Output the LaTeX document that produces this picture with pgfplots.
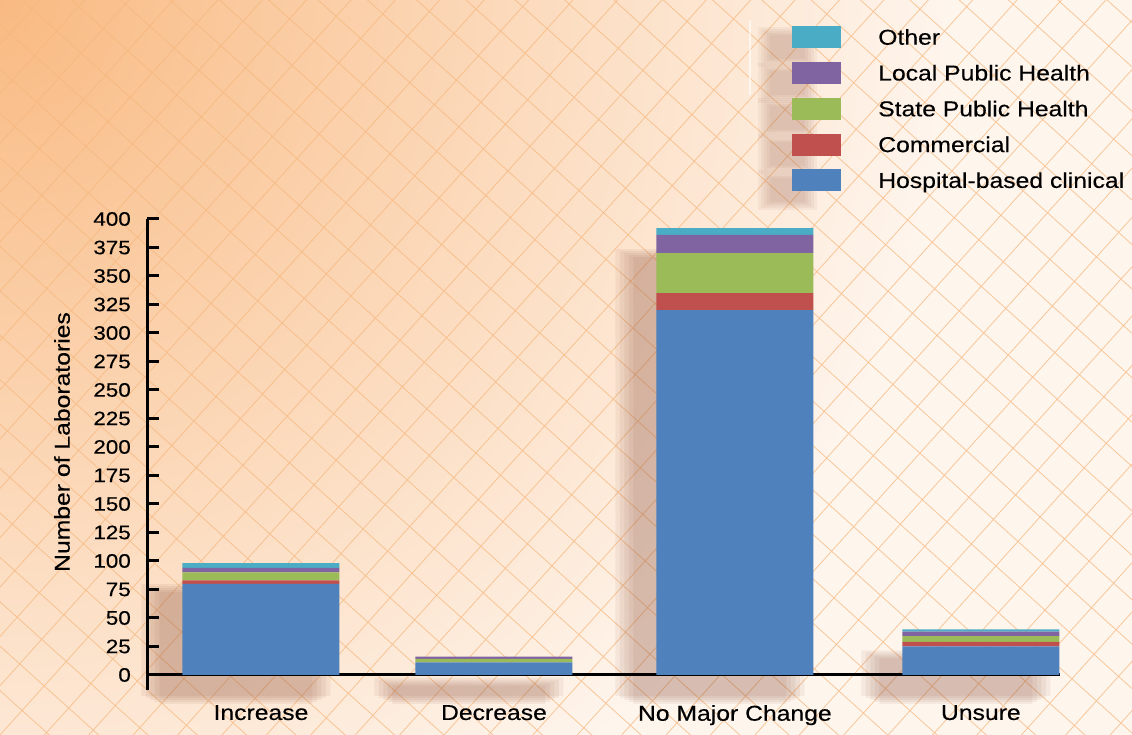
\documentclass[border=0pt]{standalone}
\usepackage{pgfplots}
\usepackage{pgfplotstable}
\pgfplotsset{compat=1.18}
\usepackage{fontspec}
\setmainfont{Liberation Sans}[FakeStretch=1.15, FakeBold=0.3]
\definecolor{cBlue}{HTML}{4F81BD}
\definecolor{cRed}{HTML}{C0504D}
\definecolor{cGreen}{HTML}{9BBB59}
\definecolor{cPurple}{HTML}{8064A2}
\definecolor{cCyan}{HTML}{4BACC6}
\definecolor{bgLight}{RGB}{254,245,237}
\definecolor{bgOrange}{RGB}{249,186,130}
\definecolor{lattice}{RGB}{246,183,125}
\definecolor{shadowc}{RGB}{140,80,60}

\pgfplotstableread{
x hosp comm state local other
0 80 3 7 4 4
0.971 11 0 3 2 0
1.975 320 15 35 16 6
3 25 4 5 4 2
}\labdata

\pgfplotstableread{
x total
0 98
0.971 16
1.975 392
3 40
}\totals

\begin{document}
\fontsize{21.5}{25}\selectfont
\begin{tikzpicture}[x=1pt,y=1pt]
\useasboundingbox (0,0) rectangle (1132,735);
\begin{scope}
\clip (0,0) rectangle (1132,735);
\fill[bgLight] (0,0) rectangle (1132,735);
\shade[inner color=bgOrange, outer color=bgLight] (0,735) circle (950);
\draw[lattice, opacity=0.75, line width=0.8pt, rotate=48, step=33] (-1600,-1600) grid (1600,1600);
% soft shadows beside the legend keys
\foreach \yc in {37,73,108,144,180}{
  \foreach \k in {0,...,4}{
    \fill[shadowc, opacity=0.06] (770-3*\k, 735-\yc-22-2*\k) rectangle (805+3*\k, 735-\yc+2+2*\k);
  }
}
\fill[white, opacity=0.6] (749,640) rectangle (751,715);
\end{scope}

% soft shadows behind the bars
\begin{axis}[
  at={(122pt,20pt)}, anchor=south west,
  scale only axis, width=913pt, height=471pt,
  xmin=-0.475, xmax=3.33, ymin=-13.2, ymax=400,
  hide axis, clip=false, ybar,
]
\addplot[fill=shadowc, draw=none, opacity=0.08, bar width=189pt, bar shift=0pt, yshift=4pt] table[x=x,y=total]{\totals};
\addplot[fill=shadowc, draw=none, opacity=0.08, bar width=180pt, bar shift=0pt, yshift=2pt] table[x=x,y=total]{\totals};
\addplot[fill=shadowc, draw=none, opacity=0.08, bar width=171pt, bar shift=0pt] table[x=x,y=total]{\totals};
\addplot[fill=shadowc, draw=none, opacity=0.08, bar width=162pt, bar shift=0pt, yshift=-2pt] table[x=x,y=total]{\totals};
\addplot[fill=shadowc, draw=none, opacity=0.08, bar width=153pt, bar shift=0pt, yshift=-4pt] table[x=x,y=total]{\totals};
\end{axis}

\begin{axis}[
  at={(147pt,45pt)}, anchor=south west,
  scale only axis, width=913pt, height=471pt,
  xmin=-0.475, xmax=3.33, ymin=-13.2, ymax=400,
  ybar stacked, bar width=157pt,
  axis x line=middle, axis y line=left,
  axis line style={-, line width=3pt, black},
  hide obscured x ticks=false, hide obscured y ticks=false,
  xtick={0,0.971,1.975,3},
  xticklabels={Increase, Decrease, No Major Change, Unsure},
  x tick style={draw=none},
  ytick={0,25,...,400},
  y tick style={line width=3pt, black},
  tick align=inside, major tick length=12pt,
  yticklabel style={anchor=east, inner sep=0pt, xshift=-16pt, font=\fontsize{19.5}{22}\selectfont},
  xticklabel style={anchor=north, inner sep=0pt, yshift=-30pt},
  /pgf/number format/assume math mode=true,
  ylabel={Number of Laboratories},
  every axis y label/.style={at={(axis description cs:-0.0931,0.5265)}, rotate=90, anchor=center},
  reverse legend,
  legend cell align=left,
  legend image code/.code={\fill[#1] (0pt,-11pt) rectangle (49pt,11pt);},
  legend style={at={(axis description cs:0.7065,1.4098)}, anchor=north west,
    draw=none, fill=none, inner sep=0pt, row sep=13.8pt, column sep=37pt,
    nodes={inner sep=0pt, text height=15pt, text depth=0pt, anchor=west}},
  clip=false,
]
\addplot[fill=cBlue, draw=none] table[x=x,y=hosp]{\labdata};
\addlegendentry{Hospital-based clinical}
\addplot[fill=cRed, draw=none] table[x=x,y=comm]{\labdata};
\addlegendentry{Commercial}
\addplot[fill=cGreen, draw=none] table[x=x,y=state]{\labdata};
\addlegendentry{State Public Health}
\addplot[fill=cPurple, draw=none] table[x=x,y=local]{\labdata};
\addlegendentry{Local Public Health}
\addplot[fill=cCyan, draw=none] table[x=x,y=other]{\labdata};
\addlegendentry{Other}
\end{axis}
\end{tikzpicture}
\end{document}
